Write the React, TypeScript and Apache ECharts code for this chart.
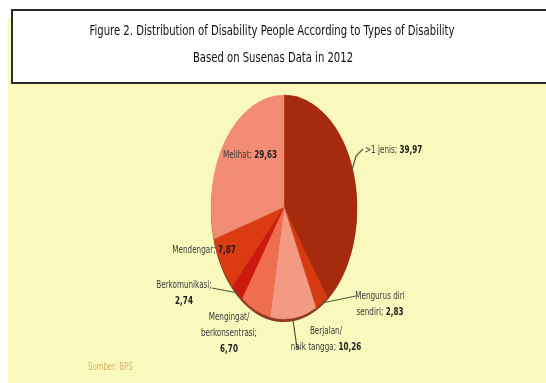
import React, { useEffect, useRef } from "react";
import * as echarts from "echarts";

const titleLines = [
  "Figure 2. Distribution of Disability People According to Types of Disability",
  "Based on Susenas Data in 2012",
];
const categories = [
  ">1 jenis",
  "Mengurus diri sendiri",
  "Berjalan/ naik tangga",
  "Mengingat/ berkonsentrasi",
  "Berkomunikasi",
  "Mendengar",
  "Melihat",
];
const values = [39.97, 2.83, 10.26, 6.7, 2.74, 7.87, 29.63];
const sliceColors = ["#A62A0D", "#D63A10", "#F39A82", "#EF6E50", "#CC1A10", "#DA3B10", "#F28C74"];
const sourceText = "Sumber: BPS";

// label line splits (text pieces from categories)
const labelLines: string[][] = [
  [">1 jenis;"],
  ["Mengurus diri", "sendiri;"],
  ["Berjalan/", "naik tangga;"],
  ["Mengingat/", "berkonsentrasi;", ""],
  ["Berkomunikasi;", ""],
  ["Mendengar;"],
  ["Melihat;"],
];

// layout (positions of labels, not data)
const labelPos: { x: number; y: number; align: string }[] = [
  { x: 365, y: 149, align: "left" },
  { x: 380, y: 303, align: "center" },
  { x: 326, y: 338, align: "center" },
  { x: 229, y: 332, align: "center" },
  { x: 184, y: 292, align: "center" },
  { x: 204, y: 249, align: "center" },
  { x: 250, y: 154, align: "center" },
];
const leaderLines: number[][][] = [
  [[352, 170], [356, 156], [363, 149]],
  [[322, 303], [356, 296]],
  [[293, 320], [297, 348], [300, 348]],
  [[212, 288], [238, 293]],
];

const CX = 284;
const CY = 207;
const RY = 112;
const RX = 73;
const FONT = "'Liberation Sans Narrow', 'DejaVu Sans Condensed', 'Liberation Sans', sans-serif";
const LABEL_SX = 0.73;
const LABEL_FS = 11;

const fmt = (v: number) => v.toFixed(2).replace(".", ",");

export default function App() {
  const ref = useRef<HTMLDivElement>(null);
  useEffect(() => {
    if (!ref.current) return;
    const chart = echarts.init(ref.current, undefined, { renderer: "svg" });
    const total = values.reduce((a, b) => a + b, 0);
    const starts: number[] = [];
    let acc = 0;
    values.forEach((v) => {
      starts.push(acc);
      acc += v;
    });

    const labelGraphics: any[] = categories.map((_, i) => {
      const lines = labelLines[i];
      const val = fmt(values[i]);
      let text: string;
      if (lines.length === 1) {
        text = `{n|${lines[0]}} {b|${val}}`;
      } else if (lines[lines.length - 1] === "") {
        const pre = lines.slice(0, -1).map((l) => `{n|${l}}`).join("\n");
        text = `${pre}\n{b|${val}}`;
      } else {
        const pre = lines.slice(0, -1).map((l) => `{n|${l}}`).join("\n");
        text = `${pre}\n{n|${lines[lines.length - 1]}} {b|${val}}`;
      }
      const p = labelPos[i];
      return {
        type: "text",
        x: p.x,
        y: p.y,
        scaleX: LABEL_SX,
        z: 20,
        style: {
          text,
          align: p.align,
          verticalAlign: "middle",
          font: `${LABEL_FS}px ${FONT}`,
          fill: "#3a3a3a",
          lineHeight: 16,
          rich: {
            n: { fontSize: LABEL_FS, fontFamily: FONT, fill: "#3a3a3a", lineHeight: 16, align: p.align },
            b: { fontSize: LABEL_FS, fontFamily: FONT, fontWeight: "bold", fill: "#222", lineHeight: 16, align: p.align },
          },
        },
      };
    });

    chart.setOption({
      animation: false,
      graphic: [
        { type: "rect", z: 0, shape: { x: 0, y: 0, width: 546, height: 383 }, style: { fill: "#ffffff" } },
        { type: "rect", z: 0, shape: { x: 8, y: 18, width: 538, height: 365 }, style: { fill: "#F9F9BE" } },
        {
          type: "rect",
          z: 1,
          shape: { x: 12, y: 10, width: 545, height: 73 },
          style: { fill: "#ffffff", stroke: "#2a2a2a", lineWidth: 2 },
        },
        {
          type: "text",
          z: 2,
          x: 272,
          y: 30,
          scaleX: 0.8,
          style: { text: titleLines[0], align: "center", verticalAlign: "middle", font: `14px ${FONT}`, fill: "#111" },
        },
        {
          type: "text",
          z: 2,
          x: 273,
          y: 57,
          scaleX: 0.8,
          style: { text: titleLines[1], align: "center", verticalAlign: "middle", font: `14px ${FONT}`, fill: "#111" },
        },
        {
          type: "ellipse",
          z: 1,
          shape: { cx: CX, cy: CY + 3, rx: RX, ry: RY },
          style: { fill: "#8E3A22" },
        },
        ...leaderLines.map((pts) => ({
          type: "polyline",
          z: 15,
          shape: { points: pts },
          style: { stroke: "#4a5a3a", lineWidth: 1.2, fill: "none" },
        })),
        ...labelGraphics,
        {
          type: "text",
          z: 2,
          x: 88,
          y: 366,
          scaleX: LABEL_SX,
          style: { text: sourceText, verticalAlign: "middle", font: `10.5px ${FONT}`, fill: "#D8B26C" },
        },
      ],
      series: [
        {
          type: "custom",
          coordinateSystem: "none",
          z: 5,
          data: values.map((v, i) => ({ value: [v], name: categories[i] })),
          renderItem: (params: any, api: any) => {
            const i = params.dataIndex;
            const v = api.value(0) as number;
            const a0 = -Math.PI / 2 + (starts[i] / total) * Math.PI * 2;
            const a1 = a0 + (v / total) * Math.PI * 2;
            return {
              type: "sector",
              x: CX,
              y: CY,
              scaleX: RX / RY,
              shape: { cx: 0, cy: 0, r0: 0, r: RY, startAngle: a0, endAngle: a1, clockwise: true },
              style: { fill: sliceColors[i], stroke: sliceColors[i], lineWidth: 0.5 },
            };
          },
        },
      ],
    });
    return () => chart.dispose();
  }, []);
  return <div ref={ref} style={{ position: "fixed", left: 0, top: 0, width: 546, height: 383 }} />;
}
